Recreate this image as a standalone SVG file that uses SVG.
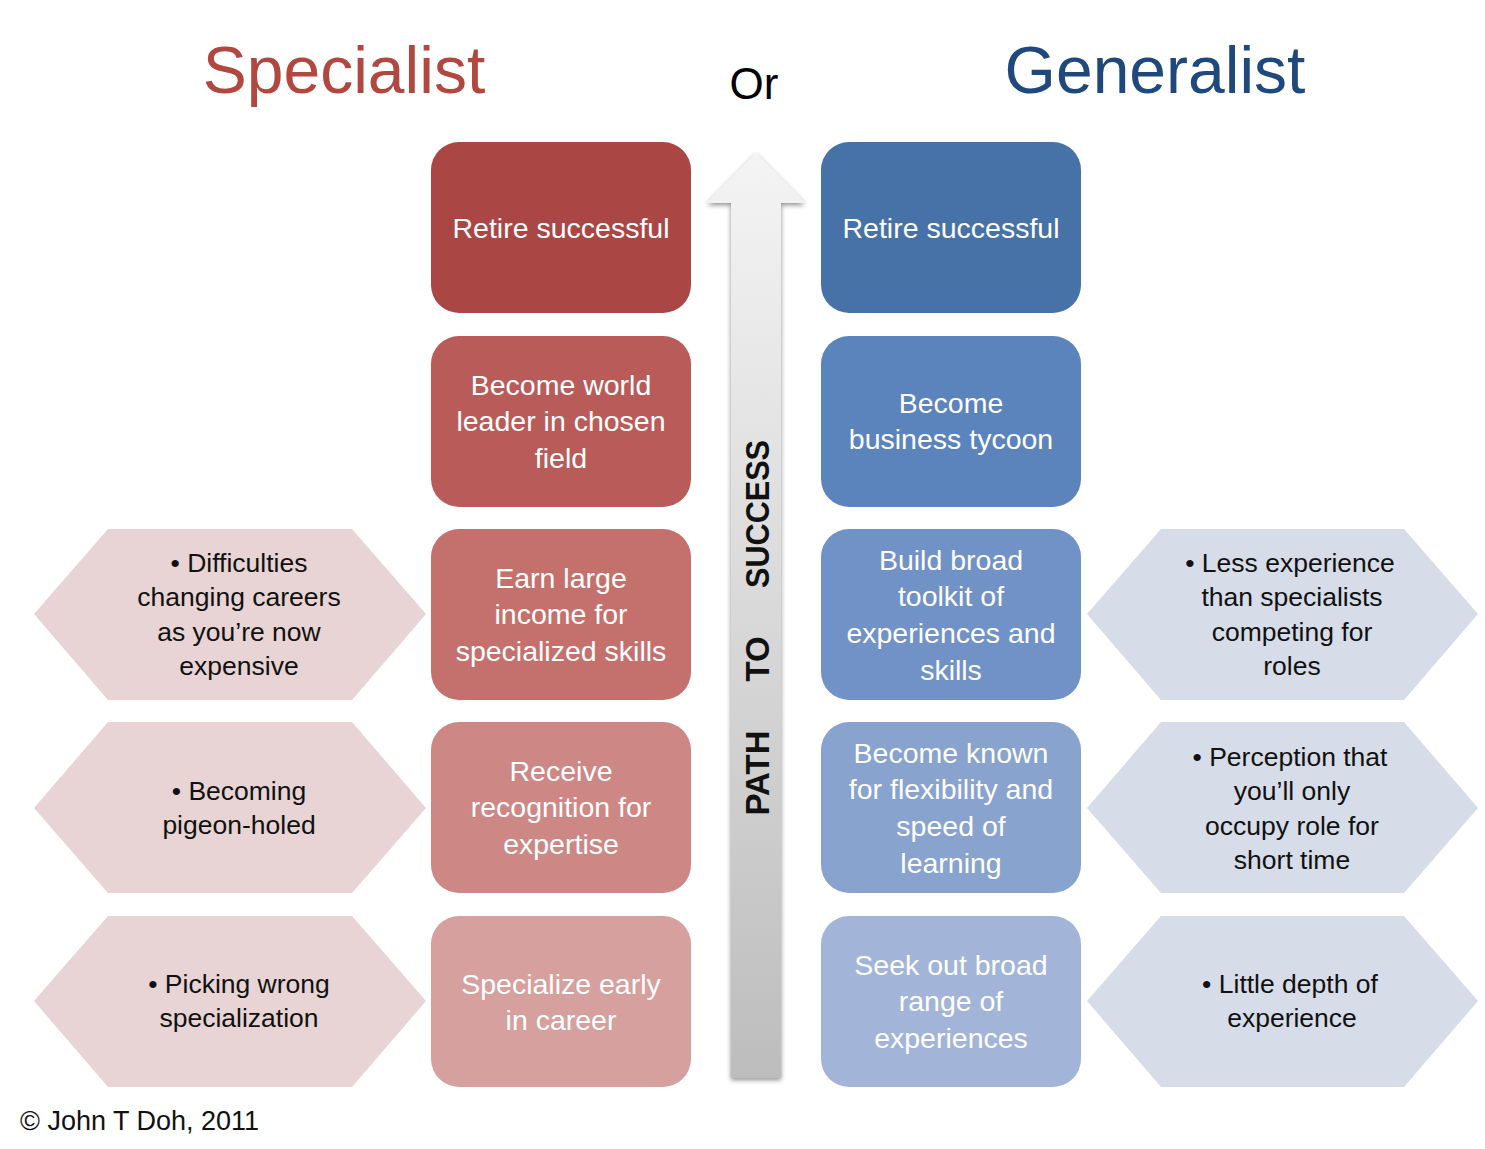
<svg xmlns="http://www.w3.org/2000/svg" width="1485" height="1149" viewBox="0 0 1485 1149">
<defs>
<linearGradient id="arrowGrad" x1="0" y1="0" x2="0" y2="1">
<stop offset="0" stop-color="#f4f4f4"/>
<stop offset="1" stop-color="#bdbdbd"/>
</linearGradient>
<filter id="sh" x="-30%" y="-5%" width="160%" height="110%">
<feGaussianBlur in="SourceAlpha" stdDeviation="2.5"/>
<feOffset dx="0" dy="2"/>
<feComponentTransfer><feFuncA type="linear" slope="0.45"/></feComponentTransfer>
<feMerge><feMergeNode/><feMergeNode in="SourceGraphic"/></feMerge>
</filter>
</defs>
<style>
.box text{font-family:"Liberation Sans",Arial,sans-serif;font-size:28.5px;fill:#ffffff;text-anchor:middle}
.hex text{font-family:"Liberation Sans",Arial,sans-serif;font-size:26.5px;fill:#111111;text-anchor:middle}
.title{font-family:"Liberation Sans",Arial,sans-serif;text-anchor:middle}
.path{font-family:"Liberation Sans",Arial,sans-serif;font-weight:bold;font-size:33px;fill:#111111;text-anchor:middle}
</style>
<rect width="1485" height="1149" fill="#ffffff"/>

<text class="title" x="344" y="93" font-size="66" fill="#B24740">Specialist</text>
<text class="title" x="754" y="99" font-size="44" fill="#000000">Or</text>
<text class="title" x="1155" y="93" font-size="66" fill="#1F497D">Generalist</text>

<g id="connectors">
<g id="arrow" filter="url(#sh)">
<path d="M731,1078 L731,203 L707,203 L756,153 L805,203 L781,203 L781,1078 Z" fill="url(#arrowGrad)"/>
</g>
<text class="path" transform="translate(769,773) rotate(-90)">PATH</text>
<text class="path" transform="translate(769,659) rotate(-90)">TO</text>
<text class="path" transform="translate(769,514) rotate(-90)" textLength="148" lengthAdjust="spacingAndGlyphs">SUCCESS</text>
</g>

<g id="s1" class="box"><rect x="431" y="142" width="260" height="171" rx="28" fill="#AA4643"/><text x="561" y="238">Retire successful</text></g>
<g id="s2" class="box"><rect x="431" y="336" width="260" height="171" rx="28" fill="#B95B58"/><text x="561" y="395">Become world</text><text x="561" y="431">leader in chosen</text><text x="561" y="468">field</text></g>
<g id="s3" class="box"><rect x="431" y="529" width="260" height="171" rx="28" fill="#C4716E"/><text x="561" y="588">Earn large</text><text x="561" y="624">income for</text><text x="561" y="661">specialized skills</text></g>
<g id="s4" class="box"><rect x="431" y="722" width="260" height="171" rx="28" fill="#CD8886"/><text x="561" y="781">Receive</text><text x="561" y="817">recognition for</text><text x="561" y="854">expertise</text></g>
<g id="s5" class="box"><rect x="431" y="916" width="260" height="171" rx="28" fill="#D6A09E"/><text x="561" y="994">Specialize early</text><text x="561" y="1030">in career</text></g>

<g id="g1" class="box"><rect x="821" y="142" width="260" height="171" rx="28" fill="#4672A8"/><text x="951" y="238">Retire successful</text></g>
<g id="g2" class="box"><rect x="821" y="336" width="260" height="171" rx="28" fill="#5B84BC"/><text x="951" y="413">Become</text><text x="951" y="449">business tycoon</text></g>
<g id="g3" class="box"><rect x="821" y="529" width="260" height="171" rx="28" fill="#7092C6"/><text x="951" y="570">Build broad</text><text x="951" y="606">toolkit of</text><text x="951" y="643">experiences and</text><text x="951" y="680">skills</text></g>
<g id="g4" class="box"><rect x="821" y="722" width="260" height="171" rx="28" fill="#89A3CF"/><text x="951" y="763">Become known</text><text x="951" y="799">for flexibility and</text><text x="951" y="836">speed of</text><text x="951" y="873">learning</text></g>
<g id="g5" class="box"><rect x="821" y="916" width="260" height="171" rx="28" fill="#A2B5D8"/><text x="951" y="975">Seek out broad</text><text x="951" y="1011">range of</text><text x="951" y="1048">experiences</text></g>

<g id="h1" class="hex"><polygon points="34,614 108,529 352,529 426,614 352,700 108,700" fill="#E8D4D4"/><text x="239" y="572">• Difficulties</text><text x="239" y="606">changing careers</text><text x="239" y="641">as you’re now</text><text x="239" y="675">expensive</text></g>
<g id="h2" class="hex"><polygon points="34,808 108,722 352,722 426,808 352,893 108,893" fill="#E8D4D4"/><text x="239" y="800">• Becoming</text><text x="239" y="834">pigeon-holed</text></g>
<g id="h3" class="hex"><polygon points="34,1001 108,916 352,916 426,1001 352,1087 108,1087" fill="#E8D4D4"/><text x="239" y="993">• Picking wrong</text><text x="239" y="1027">specialization</text></g>

<g id="h4" class="hex"><polygon points="1087,614 1161,529 1404,529 1478,614 1404,700 1161,700" fill="#D6DCE8"/><text x="1290" y="572">• Less experience</text><text x="1292" y="606">than specialists</text><text x="1292" y="641">competing for</text><text x="1292" y="675">roles</text></g>
<g id="h5" class="hex"><polygon points="1087,808 1161,722 1404,722 1478,808 1404,893 1161,893" fill="#D6DCE8"/><text x="1290" y="766">• Perception that</text><text x="1292" y="800">you’ll only</text><text x="1292" y="835">occupy role for</text><text x="1292" y="869">short time</text></g>
<g id="h6" class="hex"><polygon points="1087,1001 1161,916 1404,916 1478,1001 1404,1087 1161,1087" fill="#D6DCE8"/><text x="1290" y="993">• Little depth of</text><text x="1292" y="1027">experience</text></g>

<text x="20" y="1130" font-family="Liberation Sans,Arial,sans-serif" font-size="27" fill="#111111">© John T Doh, 2011</text>
</svg>
